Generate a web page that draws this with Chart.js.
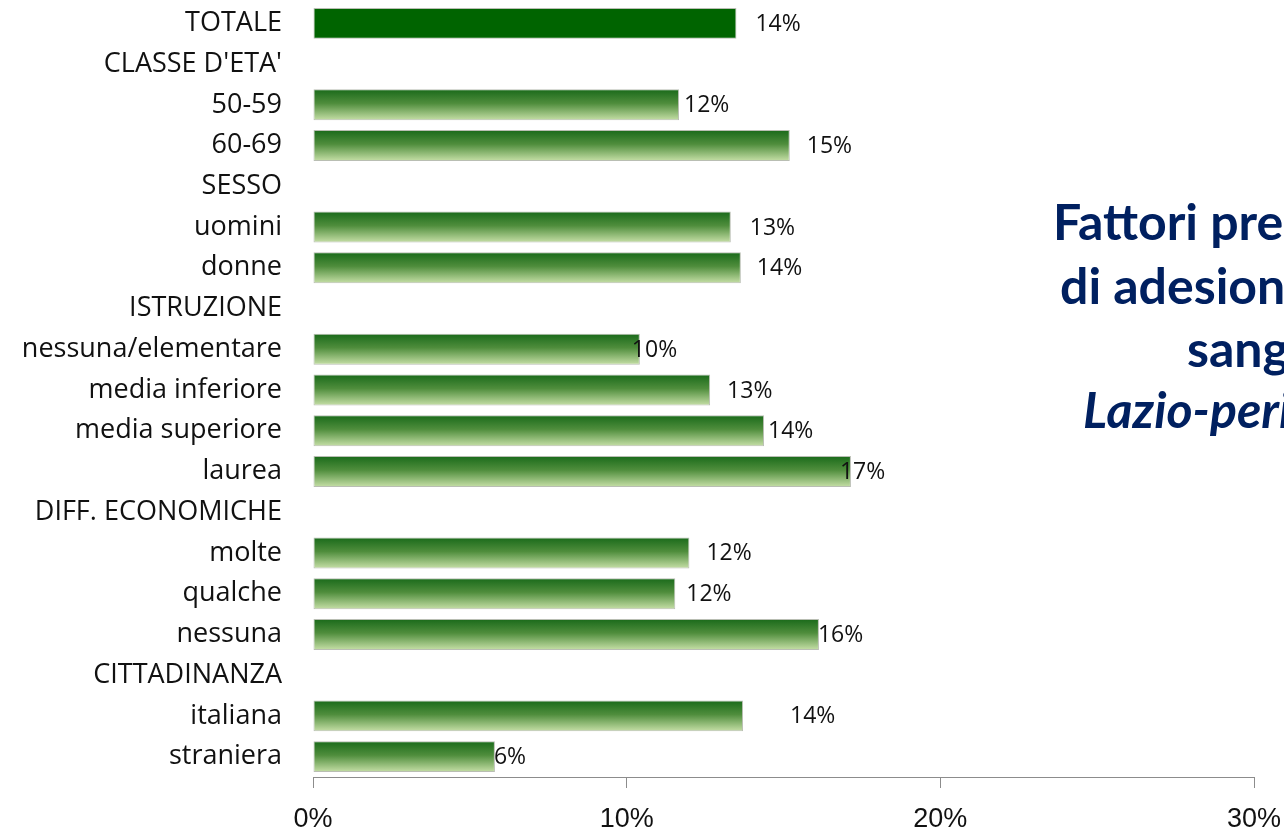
<!DOCTYPE html>
<html>
<head>
<meta charset="utf-8">
<script src="https://cdn.jsdelivr.net/npm/chart.js@4/dist/chart.umd.min.js"></script>
<style>
  html, body { margin: 0; padding: 0; background: #fff; }
  #wrap { width: 1284px; height: 833px; }
</style>
</head>
<body>
<div id="wrap"><canvas id="chart" width="1284" height="833"></canvas></div>
<script>
// rows of the chart, headings have no bar
var categories = [
    'TOTALE', "CLASSE D'ETA'", '50-59', '60-69', 'SESSO', 'uomini', 'donne',
    'ISTRUZIONE', 'nessuna/elementare', 'media inferiore', 'media superiore', 'laurea',
    'DIFF. ECONOMICHE', 'molte', 'qualche', 'nessuna',
    'CITTADINANZA', 'italiana', 'straniera'
];
// adesione (%)
var adesione = [
    13.5, null, 11.67, 15.2, null, 13.32, 13.64,
    null, 10.42, 12.66, 14.38, 17.15,
    null, 12.0, 11.55, 16.13,
    null, 13.71, 5.8
];
var xTicks = [0, 10, 20, 30];
var titleLines = ['Fattori predittivi', 'di adesione allo screening del', 'sangue occulto fecale', 'Lazio-periodo 2010-2013'];

// small nudges of the value labels, as in the original slide
var labelNudge = [19, 0, 5, 17, 0, 19, 16, 0, -8, 17, 4, -11, 0, 17, 11, -1, 0, 47, -1];

var valueLabels = {
    id: 'valueLabels',
    afterDatasetsDraw: function(chart) {
        var ctx = chart.ctx;
        var meta = chart.getDatasetMeta(0);
        ctx.save();
        ctx.font = '23px "Open Sans"';
        ctx.fillStyle = '#111';
        ctx.textAlign = 'left';
        ctx.textBaseline = 'middle';
        meta.data.forEach(function(bar, i) {
            var v = adesione[i];
            if (v === null) { return; }
            ctx.fillText(Math.round(v) + '%', bar.x + labelNudge[i], bar.y + 1);
        });
        ctx.restore();
    }
};

var sideTitle = {
    id: 'sideTitle',
    afterDraw: function(chart) {
        var ctx = chart.ctx;
        var starts = [1053, 1060, 1187, 1083];
        var baselines = [240, 304, 367, 428];
        ctx.save();
        ctx.fillStyle = '#002060';
        ctx.textAlign = 'left';
        ctx.textBaseline = 'alphabetic';
        titleLines.forEach(function(line, i) {
            ctx.font = (i === 3 ? 'italic ' : '') + 'bold 50px Lato';
            ctx.fillText(line, starts[i], baselines[i]);
        });
        ctx.restore();
    }
};

function barFill(context) {
    var chart = context.chart;
    var i = context.dataIndex;
    if (i === 0) { return '#006400'; }
    var y = chart.scales.y;
    if (!y || y.top === undefined) { return '#4e8a3a'; }
    var c = y.getPixelForValue(i);
    var g = chart.ctx.createLinearGradient(0, c - 15, 0, c + 15);
    g.addColorStop(0, '#1b6b1b');
    g.addColorStop(0.45, '#4f8d3c');
    g.addColorStop(1, '#c3dda4');
    return g;
}

new Chart(document.getElementById('chart'), {
    type: 'bar',
    data: {
        labels: categories,
        datasets: [{
            data: adesione,
            backgroundColor: barFill,
            borderColor: '#b9beb3',
            borderWidth: 1,
            borderSkipped: false,
            barPercentage: 1,
            categoryPercentage: 0.76
        }]
    },
    options: {
        indexAxis: 'y',
        responsive: false,
        animation: false,
        devicePixelRatio: 1,
        layout: { padding: { top: 3, right: 30, bottom: 0, left: 0 } },
        plugins: {
            legend: { display: false },
            tooltip: { enabled: false }
        },
        scales: {
            x: {
                min: 0,
                max: 30,
                afterBuildTicks: function(scale) {
                    scale.ticks = xTicks.map(function(v) { return { value: v }; });
                },
                afterFit: function(scale) {
                    scale.height = 56;
                    scale.paddingLeft = 0;
                    scale.paddingRight = 0;
                },
                grid: {
                    drawOnChartArea: false,
                    drawTicks: true,
                    tickLength: 11,
                    color: '#8c8c8c'
                },
                border: { display: true, color: '#8c8c8c', width: 1 },
                ticks: {
                    padding: 15,
                    color: '#111',
                    font: { family: '"Liberation Sans"', size: 27 },
                    callback: function(v) { return v + '%'; }
                }
            },
            y: {
                afterFit: function(scale) {
                    scale.width = 313;
                    scale.paddingTop = 0;
                    scale.paddingBottom = 0;
                },
                grid: { display: false, drawTicks: false },
                border: { display: false },
                ticks: {
                    padding: 31,
                    color: '#111',
                    autoSkip: false,
                    font: { family: '"Open Sans"', size: 27 }
                }
            }
        }
    },
    plugins: [valueLabels, sideTitle]
});
</script>
</body>
</html>
